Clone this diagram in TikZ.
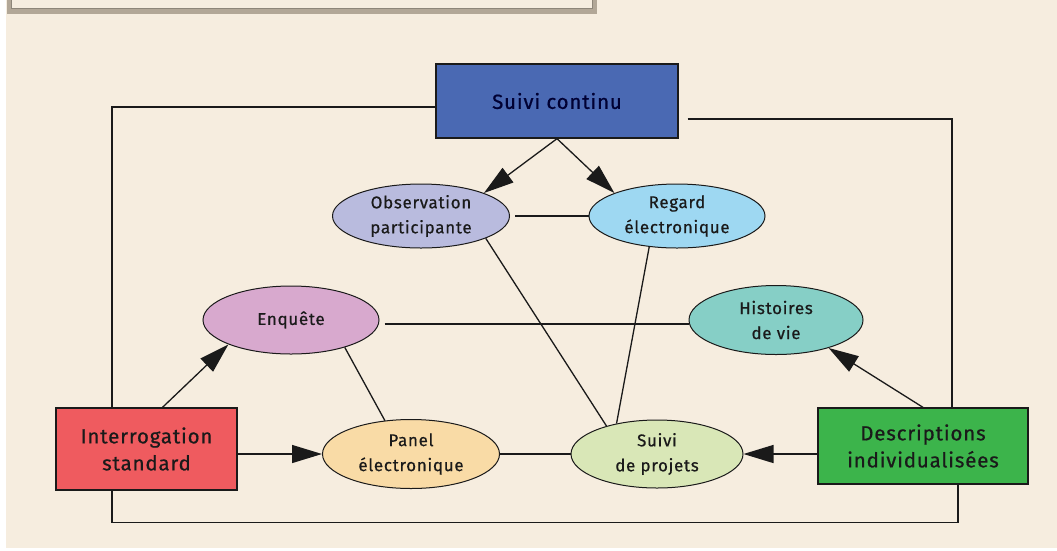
\documentclass[tikz,border=0pt]{standalone}
\usepackage{fontspec}
\setmainfont{Fira Sans}[LetterSpace=4,FakeBold=0.6]
\usepackage{tikz}
\usetikzlibrary{arrows.meta,shapes.geometric}

\definecolor{fond}{HTML}{F6EDDF}
\definecolor{cadre}{HTML}{B2A797}
\definecolor{bleu}{HTML}{4A69B3}
\definecolor{lavande}{HTML}{B9BBDE}
\definecolor{ciel}{HTML}{9ED8F2}
\definecolor{mauve}{HTML}{D8A9CE}
\definecolor{turquoise}{HTML}{86CFC6}
\definecolor{rouge}{HTML}{EF5B5F}
\definecolor{peche}{HTML}{F9DBA6}
\definecolor{amande}{HTML}{D9E7B7}
\definecolor{vert}{HTML}{3CB44B}
\definecolor{encre}{HTML}{1A1A1A}

\begin{document}
\begin{tikzpicture}[x=1pt,y=-1pt,
    boite/.style={draw=encre,line width=1.3pt,rectangle,align=center,inner sep=0pt,font=\fontsize{20.5}{27}\selectfont,text=encre},
    bulle/.style={draw=encre,line width=1pt,ellipse,align=center,inner sep=0pt,font=\fontsize{17}{25}\selectfont,text=encre},
    lien/.style={draw=encre,line width=1.3pt},
    fleche/.style={lien,-{Triangle[length=30pt,width=18pt]}}]
    \useasboundingbox (0,0) rectangle (1057,550);
    \fill[white] (0,0) rectangle (1057,550);
    \fill[fond] (6,0) rectangle (1057,548);
    \draw[cadre,line width=5pt] (9,-10) rectangle (594.5,11);
    \draw[cadre!80!black,line width=0.8pt] (11.5,-10) rectangle (592,8.5);

    \node[boite,fill=bleu,text=blue!20!black,minimum width=242pt,minimum height=74pt] (sc) at (557,101) {Suivi continu};
    \node[boite,fill=rouge,minimum width=181pt,minimum height=82pt] (inter) at (146.5,449) {Interrogation\\standard};
    \node[boite,fill=vert,minimum width=210pt,minimum height=76pt] (desc) at (923,446) {Descriptions\\individualisées};

    \node[bulle,fill=lavande,minimum width=177pt,minimum height=64pt] (obs) at (421,216) {Observation\\participante};
    \node[bulle,fill=ciel,minimum width=176pt,minimum height=64pt] (reg) at (677,216) {Regard\\électronique};
    \node[bulle,fill=mauve,minimum width=176pt,minimum height=68pt] (enq) at (291,320) {Enquête};
    \node[bulle,fill=turquoise,minimum width=174pt,minimum height=69pt] (hist) at (776,320) {Histoires\\de vie};
    \node[bulle,fill=peche,minimum width=177pt,minimum height=69pt] (pan) at (411,454) {Panel\\électronique};
    \node[bulle,fill=amande,minimum width=172pt,minimum height=68pt] (sp) at (657,454) {Suivi\\de projets};

    \draw[lien] ([yshift=-6pt]sc.west) -| ([xshift=-34.5pt]inter.north);
    \draw[lien] ([xshift=9pt,yshift=-18pt]sc.east) -| ([xshift=29pt]desc.north);
    \draw[lien] ([xshift=-34.5pt]inter.south) -- ++(0,32) -| ([xshift=35pt]desc.south);

    \draw[fleche] (sc.south) -- (obs.north east);
    \draw[fleche] (sc.south) -- (reg.north west);
    \draw[fleche] ([xshift=16pt]inter.north) -- (enq.south west);
    \draw[fleche] (inter.east |- pan.west) -- (pan.west);
    \draw[fleche] (desc.north) -- (hist.-28);
    \draw[fleche] (desc.west |- sp.east) -- (sp.east);

    \draw[lien] ([xshift=5pt]obs.east) -- (reg.west);
    \draw[lien] ([xshift=5pt,yshift=-4pt]enq.east) -- ([yshift=-4pt]hist.west);
    \draw[lien] (enq.-27) -- (pan.128);
    \draw[lien] (obs.-19) -- (sp.151);
    \draw[lien] (reg.-132) -- (sp.143);
    \draw[lien] (pan.east) -- (sp.west);
\end{tikzpicture}
\end{document}
